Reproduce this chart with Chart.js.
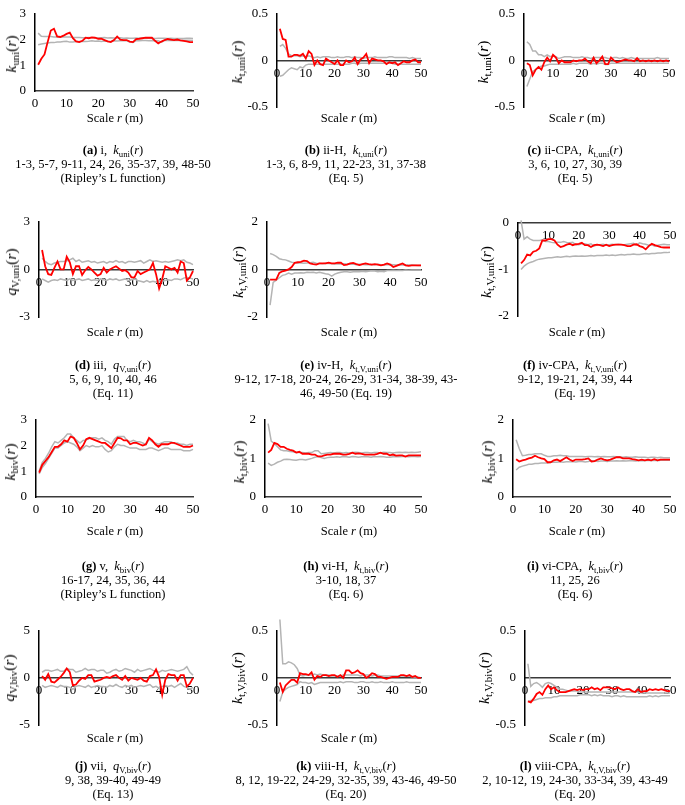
<!DOCTYPE html>
<html><head><meta charset="utf-8">
<script src="https://cdn.jsdelivr.net/npm/chart.js@4.4.1/dist/chart.umd.min.js"></script>
<style>
body{margin:0;background:#fff;width:685px;height:805px;position:relative;overflow:hidden;font-family:"Liberation Serif",serif;color:#000}
canvas{position:absolute}
.ytitle{position:absolute;white-space:nowrap;font-size:15.5px;transform:translate(-50%,-50%) rotate(-90deg)}
.xtitle{position:absolute;white-space:nowrap;font-size:12.5px;transform:translateX(-50%)}
.cap{position:absolute;white-space:nowrap;font-size:12.5px;line-height:14px;text-align:center;transform:translateX(-50%)}
sub{font-size:0.7em;vertical-align:-0.3em;line-height:0}
</style></head><body>
<script>
// scale r (m)
const radii = [1,2,3,4,5,6,7,8,9,10,11,12,13,14,15,16,17,18,19,20,21,22,23,24,25,26,27,28,29,30,31,32,33,34,35,36,37,38,39,40,41,42,43,44,45,46,47,48,49,50];

// (a) i
const aObs = [1.02,1.25,1.42,1.9,2.35,2.42,2.12,2.1,2.15,2.22,2.27,2.05,1.93,1.9,1.95,2.07,2.05,2.08,2.07,2.03,2.03,1.98,1.93,1.9,1.98,2.12,2.0,1.98,1.98,1.92,1.9,2.02,2.03,2.05,2.07,2.07,2.07,1.95,1.85,1.92,1.98,2.02,2.0,1.98,2.0,1.97,1.95,1.93,1.9,1.9];
const aHi = [2.25,2.13,2.12,2.12,2.12,2.1,2.1,2.11,2.1,2.1,2.1,2.08,2.08,2.08,2.07,2.07,2.08,2.07,2.07,2.06,2.07,2.08,2.06,2.07,2.06,2.06,2.07,2.05,2.06,2.05,2.05,2.06,2.05,2.06,2.05,2.05,2.05,2.04,2.05,2.05,2.05,2.04,2.05,2.04,2.04,2.04,2.04,2.05,2.05,2.04];
const aLo = [1.8,1.83,1.85,1.87,1.88,1.88,1.9,1.9,1.92,1.93,1.9,1.9,1.92,1.92,1.92,1.92,1.93,1.95,1.93,1.94,1.92,1.94,1.92,1.93,1.95,1.94,1.95,1.96,1.95,1.9,1.89,1.96,1.95,1.96,1.96,1.95,1.96,1.94,1.95,1.9,1.96,1.97,1.96,1.97,1.96,1.96,1.97,1.97,1.97,1.96];

// (b) ii-H
const bObs = [0.34,0.23,0.22,0.04,0.04,0.06,0.06,0.05,0.07,0.02,0.1,0.07,-0.05,0.0,-0.04,-0.05,0.02,0.0,-0.02,-0.04,0.0,-0.05,-0.05,0.0,-0.02,-0.01,0.03,-0.04,0.01,0.03,0.07,-0.03,0.02,0.01,0.0,0.0,-0.01,-0.04,-0.02,-0.03,-0.02,-0.05,-0.03,-0.01,-0.02,-0.02,0.0,0.01,-0.02,-0.02];
const bHi = [0.15,0.17,0.13,0.07,0.05,0.05,0.05,0.04,0.05,0.04,0.05,0.04,0.03,0.04,0.03,0.04,0.04,0.04,0.03,0.03,0.04,0.03,0.03,0.04,0.04,0.03,0.04,0.03,0.03,0.02,0.03,0.03,0.03,0.04,0.03,0.03,0.03,0.03,0.04,0.04,0.03,0.03,0.03,0.03,0.03,0.02,0.03,0.02,0.02,0.02];
const bLo = [-0.17,-0.16,-0.13,-0.1,-0.08,-0.09,-0.1,-0.07,-0.08,-0.05,-0.04,-0.04,-0.04,-0.04,-0.04,-0.04,-0.04,-0.04,-0.04,-0.04,-0.04,-0.04,-0.04,-0.04,-0.04,-0.03,-0.03,-0.04,-0.03,-0.03,-0.03,-0.03,-0.03,-0.03,-0.03,-0.03,-0.03,-0.03,-0.03,-0.03,-0.04,-0.04,-0.04,-0.04,-0.04,-0.04,-0.04,-0.04,-0.04,-0.04];

// (c) ii-CPA
const cObs = [-0.03,-0.05,-0.16,-0.1,-0.07,-0.1,-0.02,0.03,-0.01,0.06,0.03,-0.03,0.0,-0.02,-0.02,-0.02,0.0,-0.01,0.0,0.0,0.02,-0.01,-0.03,0.03,-0.03,0.0,0.04,-0.04,-0.04,0.03,0.0,-0.02,-0.01,0.0,0.01,0.0,0.0,-0.01,0.025,-0.01,0.0,-0.01,0.0,-0.01,0.0,-0.01,0.0,-0.01,0.0,-0.01];
const cHi = [0.2,0.17,0.1,0.1,0.06,0.06,0.04,0.06,0.04,0.05,0.04,0.02,0.03,0.04,0.04,0.04,0.03,0.03,0.03,0.04,0.03,0.03,0.02,0.03,0.03,0.03,0.03,0.03,0.02,0.02,0.03,0.03,0.02,0.03,0.02,0.02,0.03,0.02,0.02,0.02,0.02,0.02,0.02,0.02,0.02,0.03,0.02,0.02,0.02,0.02];
const cLo = [-0.28,-0.2,-0.12,-0.1,-0.08,-0.06,-0.06,-0.05,-0.04,-0.04,-0.04,-0.04,-0.04,-0.04,-0.04,-0.04,-0.03,-0.04,-0.03,-0.03,-0.03,-0.03,-0.04,-0.03,-0.04,-0.03,-0.03,-0.045,-0.045,-0.03,-0.03,-0.03,-0.03,-0.03,-0.03,-0.03,-0.03,-0.03,-0.03,-0.03,-0.03,-0.03,-0.03,-0.03,-0.03,-0.03,-0.03,-0.03,-0.03,-0.03];

// (d) iii
const dObs = [1.22,0.2,-0.3,-0.35,0.1,0.5,0.0,0.0,0.8,0.45,-0.3,0.2,0.2,-0.35,-0.05,0.15,0.0,-0.2,-0.4,-0.3,0.1,-0.2,0.0,0.1,0.2,0.05,-0.1,-0.05,-0.2,-0.5,-0.5,-0.1,-0.3,-0.2,-0.1,0.0,0.4,-0.3,-1.2,-0.6,0.2,0.1,0.0,0.1,-0.2,0.5,0.4,-0.7,-0.5,-0.1];
const dHi = [0.7,0.5,0.35,0.3,0.4,0.45,0.5,0.5,0.55,0.6,0.7,0.5,0.6,0.45,0.5,0.55,0.45,0.5,0.4,0.45,0.5,0.4,0.5,0.45,0.55,0.45,0.5,0.4,0.5,0.5,0.45,0.5,0.55,0.4,0.5,0.6,0.5,0.55,0.5,0.45,0.5,0.45,0.5,0.55,0.6,0.55,0.6,0.45,0.4,0.3];
const dLo = [-0.6,-0.7,-0.8,-0.7,-0.65,-0.7,-0.6,-0.65,-0.7,-0.6,-0.7,-0.65,-0.6,-0.7,-0.65,-0.6,-0.7,-0.65,-0.7,-0.6,-0.65,-0.7,-0.6,-0.65,-0.6,-0.7,-0.65,-0.6,-0.7,-0.65,-0.6,-0.7,-0.75,-0.8,-0.7,-0.8,-0.75,-0.8,-0.7,-0.75,-0.7,-0.65,-0.7,-0.6,-0.6,-0.65,-0.55,-0.5,-0.55,-0.6];

// (e) iv-H
const eObs = [-0.43,-0.43,-0.43,-0.15,-0.08,-0.05,0.0,0.1,0.28,0.3,0.32,0.37,0.35,0.25,0.22,0.2,0.25,0.25,0.25,0.28,0.25,0.25,0.28,0.28,0.18,0.2,0.25,0.27,0.22,0.18,0.22,0.25,0.22,0.2,0.22,0.2,0.17,0.2,0.25,0.2,0.1,0.15,0.2,0.25,0.17,0.15,0.17,0.17,0.17,0.17];
const eHi = [0.67,0.62,0.55,0.45,0.42,0.4,0.35,0.3,0.28,0.27,0.27,0.26,0.27,0.28,0.3,0.26,0.25,0.24,0.26,0.25,0.24,0.23,0.24,0.23,0.24,0.23,0.22,0.23,0.2,0.22,0.21,0.2,0.2,0.21,0.2,0.22,0.2,0.19,0.2,0.21,0.2,0.19,0.18,0.18,0.19,0.18,0.18,0.17,0.16,0.16];
const eLo = [-1.5,-0.55,-0.45,-0.35,-0.25,-0.22,-0.15,-0.2,-0.15,-0.15,-0.14,-0.15,-0.12,-0.13,-0.12,-0.15,-0.12,-0.15,-0.18,-0.2,-0.28,-0.2,-0.15,-0.12,-0.1,-0.1,-0.12,-0.1,-0.1,-0.1,-0.08,-0.1,-0.08,-0.06,-0.07,-0.1,-0.08,-0.1,-0.05,-0.05,-0.04,-0.05,-0.04,-0.05,-0.03,-0.04,-0.03,-0.03,-0.03,-0.03];

// (f) iv-CPA
const fObs = [-0.87,-0.8,-0.68,-0.7,-0.62,-0.6,-0.55,-0.38,-0.38,-0.35,-0.35,-0.38,-0.47,-0.52,-0.5,-0.47,-0.45,-0.48,-0.46,-0.45,-0.43,-0.48,-0.48,-0.52,-0.48,-0.47,-0.48,-0.5,-0.47,-0.5,-0.48,-0.47,-0.47,-0.47,-0.48,-0.5,-0.5,-0.47,-0.46,-0.5,-0.52,-0.57,-0.5,-0.45,-0.48,-0.5,-0.52,-0.53,-0.53,-0.53];
const fHi = [0.05,-0.35,-0.3,-0.35,-0.38,-0.38,-0.38,-0.37,-0.4,-0.4,-0.42,-0.43,-0.42,-0.42,-0.4,-0.42,-0.43,-0.42,-0.47,-0.47,-0.45,-0.45,-0.47,-0.45,-0.5,-0.47,-0.47,-0.46,-0.48,-0.47,-0.46,-0.47,-0.46,-0.47,-0.47,-0.46,-0.45,-0.44,-0.48,-0.43,-0.45,-0.46,-0.48,-0.47,-0.5,-0.48,-0.47,-0.46,-0.47,-0.47];
const fLo = [-1.0,-0.93,-0.88,-0.85,-0.83,-0.8,-0.78,-0.77,-0.76,-0.75,-0.75,-0.74,-0.73,-0.74,-0.73,-0.72,-0.73,-0.72,-0.71,-0.72,-0.71,-0.72,-0.71,-0.7,-0.71,-0.7,-0.7,-0.7,-0.69,-0.7,-0.69,-0.7,-0.69,-0.68,-0.69,-0.68,-0.68,-0.67,-0.68,-0.68,-0.67,-0.66,-0.67,-0.66,-0.66,-0.65,-0.65,-0.64,-0.64,-0.63];

// (g) v
const gObs = [0.95,1.25,1.4,1.55,1.75,1.95,1.95,2.05,2.2,2.15,2.35,2.3,2.1,1.85,2.0,2.25,2.3,2.25,2.2,2.15,2.1,2.1,2.0,1.9,2.1,2.3,2.28,2.2,2.2,2.05,2.1,2.1,2.05,2.0,2.05,2.3,2.2,2.05,1.95,2.05,2.05,2.05,2.1,2.1,2.05,2.0,1.95,1.95,1.95,2.0];
const gHi = [1.0,1.35,1.5,1.7,1.95,2.15,2.1,2.2,2.3,2.45,2.45,2.3,2.2,2.1,2.2,2.22,2.27,2.3,2.3,2.25,2.3,2.2,2.15,2.05,2.25,2.35,2.35,2.35,2.2,2.15,2.2,2.15,2.15,2.1,2.03,2.25,2.15,2.1,2.05,2.1,2.15,2.15,2.15,2.08,2.1,2.05,2.05,2.0,2.05,2.05];
const gLo = [0.9,1.15,1.3,1.5,1.7,1.9,1.9,2.0,2.1,2.15,2.1,2.05,1.95,1.8,1.9,2.0,1.95,2.0,1.95,1.95,2.0,1.85,1.75,1.8,1.95,2.05,2.0,2.0,1.95,1.9,1.9,1.9,1.85,1.85,1.85,1.9,1.9,1.85,1.8,1.85,1.9,1.9,1.85,1.85,1.85,1.85,1.8,1.8,1.8,1.85];

// (h) vi-H
const hObs = [1.15,1.22,1.4,1.37,1.3,1.3,1.25,1.22,1.2,1.15,1.17,1.12,1.12,1.12,1.1,1.1,1.05,1.05,1.08,1.1,1.1,1.12,1.12,1.12,1.1,1.1,1.12,1.15,1.12,1.13,1.12,1.1,1.1,1.1,1.1,1.12,1.15,1.12,1.12,1.08,1.1,1.07,1.08,1.08,1.05,1.08,1.08,1.08,1.08,1.08];
const hHi = [1.9,1.45,1.38,1.3,1.22,1.2,1.2,1.18,1.17,1.15,1.15,1.15,1.14,1.15,1.15,1.2,1.2,1.12,1.13,1.14,1.15,1.14,1.15,1.15,1.14,1.15,1.14,1.15,1.16,1.15,1.14,1.15,1.15,1.14,1.15,1.15,1.14,1.16,1.15,1.15,1.14,1.15,1.16,1.15,1.16,1.15,1.16,1.15,1.16,1.17];
const hLo = [0.88,0.82,0.85,0.9,0.93,0.97,0.98,0.97,0.96,0.95,0.97,0.97,0.96,0.98,1.0,1.03,1.05,1.02,1.0,1.02,1.03,1.03,1.04,1.03,1.05,1.04,1.03,1.05,1.04,1.03,1.04,1.05,1.04,1.03,1.05,1.04,1.05,1.04,1.03,1.03,1.04,1.05,1.04,1.05,1.05,1.04,1.05,1.05,1.04,1.05];

// (i) vi-CPA
const iObs = [0.98,0.92,0.95,0.97,1.0,1.02,1.07,1.03,1.0,0.98,0.9,0.9,0.95,0.97,0.93,0.98,1.03,0.97,0.93,0.97,0.97,0.97,0.98,1.0,0.92,0.93,0.97,1.0,0.97,0.95,0.97,1.0,1.03,1.03,1.0,1.0,1.0,0.98,0.97,0.95,0.97,0.95,0.97,0.95,0.98,0.95,0.97,0.97,0.97,0.97];
const iHi = [1.48,1.25,1.07,1.08,1.1,1.1,1.12,1.12,1.12,1.08,1.05,1.05,1.07,1.07,1.08,1.07,1.07,1.05,1.05,1.05,1.05,1.05,1.04,1.05,1.05,1.04,1.05,1.04,1.05,1.04,1.04,1.05,1.04,1.04,1.03,1.04,1.03,1.03,1.04,1.03,1.03,1.03,1.02,1.03,1.03,1.02,1.03,1.02,1.02,1.02];
const iLo = [0.7,0.77,0.8,0.82,0.85,0.85,0.87,0.87,0.88,0.88,0.88,0.9,0.9,0.9,0.91,0.9,0.91,0.91,0.92,0.91,0.92,0.92,0.91,0.92,0.94,0.94,0.92,0.93,0.93,0.92,0.93,0.93,0.94,0.93,0.94,0.93,0.94,0.94,0.93,0.94,0.94,0.94,0.95,0.94,0.95,0.94,0.95,0.95,0.95,0.95];

// (j) vii
const jObs = [0.2,-0.2,0.4,-0.4,-0.5,-0.2,0.1,0.5,1.0,0.6,-0.8,-0.7,-0.3,0.0,-0.1,0.3,0.3,-0.4,-0.3,-0.2,0.0,0.1,0.0,0.2,0.3,0.0,-0.2,0.2,-0.3,0.0,-0.1,-0.2,0.0,-0.3,-0.4,0.2,0.3,0.9,0.1,-1.8,-0.2,0.4,0.3,0.3,-0.3,0.3,0.3,-0.9,-0.6,0.0];
const jHi = [0.6,0.8,0.8,0.7,0.8,0.9,0.7,0.7,1.0,0.9,0.9,0.6,0.7,0.8,1.0,0.8,0.9,0.9,0.7,0.8,0.8,0.5,0.6,0.8,0.9,0.7,0.8,1.0,0.9,0.8,0.6,0.9,0.7,0.8,0.9,1.0,0.8,0.7,0.6,0.8,0.7,0.8,0.9,0.8,0.7,0.8,0.9,1.2,0.6,0.3];
const jLo = [-0.8,-1.0,-0.9,-0.8,-0.9,-1.0,-0.8,-0.9,-0.9,-1.0,-1.2,-0.9,-0.8,-0.9,-1.0,-0.8,-1.0,-0.9,-0.8,-0.9,-0.9,-1.0,-0.8,-0.9,-0.7,-0.9,-1.0,-0.8,-0.9,-0.8,-1.0,-0.9,-0.8,-0.9,-0.8,-0.7,-1.0,-0.9,-1.1,-0.9,-0.8,-0.9,-0.8,-1.0,-0.8,-0.6,-0.9,-1.0,-1.2,-1.0];

// (k) viii-H
const kObs = [-0.05,-0.15,-0.08,-0.05,-0.02,-0.02,-0.05,0.05,0.04,0.04,0.03,0.06,-0.02,0.02,0.01,0.03,0.03,0.02,0.03,0.03,0.01,0.03,0.0,0.08,0.08,0.05,0.06,0.08,0.05,0.04,0.0,0.02,0.05,0.04,0.01,0.01,0.0,-0.01,0.0,0.01,0.01,0.01,0.03,0.03,0.02,0.03,0.01,0.02,0.0,0.0];
const kHi = [0.62,0.15,0.15,0.17,0.16,0.14,0.1,0.03,0.02,0.03,0.03,0.03,0.04,0.03,0.04,0.03,0.03,0.03,0.02,0.02,0.02,0.02,0.03,0.03,0.03,0.03,0.03,0.03,0.02,0.03,0.03,0.03,0.02,0.03,0.03,0.02,0.02,0.02,0.02,0.02,0.02,0.02,0.02,0.02,0.02,0.02,0.01,0.01,0.01,0.0];
const kLo = [-0.25,-0.15,-0.12,-0.1,-0.09,-0.08,-0.07,-0.04,-0.05,-0.05,-0.06,-0.05,-0.07,-0.06,-0.05,-0.05,-0.05,-0.05,-0.05,-0.05,-0.05,-0.04,-0.05,-0.04,-0.04,-0.04,-0.05,-0.05,-0.04,-0.04,-0.05,-0.05,-0.04,-0.05,-0.05,-0.04,-0.05,-0.05,-0.05,-0.04,-0.05,-0.05,-0.05,-0.05,-0.04,-0.05,-0.05,-0.05,-0.05,-0.05];

// (l) viii-CPA
const lObs = [-0.25,-0.26,-0.22,-0.17,-0.15,-0.18,-0.12,-0.08,-0.12,-0.1,-0.13,-0.15,-0.15,-0.15,-0.14,-0.13,-0.12,-0.13,-0.12,-0.13,-0.12,-0.12,-0.1,-0.12,-0.11,-0.13,-0.1,-0.1,-0.1,-0.11,-0.12,-0.1,-0.12,-0.13,-0.12,-0.12,-0.14,-0.15,-0.12,-0.15,-0.14,-0.14,-0.12,-0.13,-0.12,-0.13,-0.12,-0.13,-0.14,-0.14];
const lHi = [0.15,-0.09,-0.06,-0.05,-0.07,-0.1,-0.06,-0.05,-0.06,-0.08,-0.1,-0.12,-0.12,-0.13,-0.14,-0.14,-0.14,-0.14,-0.15,-0.15,-0.15,-0.15,-0.15,-0.15,-0.15,-0.15,-0.15,-0.15,-0.15,-0.15,-0.15,-0.15,-0.15,-0.15,-0.15,-0.15,-0.15,-0.15,-0.15,-0.16,-0.16,-0.16,-0.16,-0.16,-0.16,-0.16,-0.16,-0.16,-0.16,-0.16];
const lLo = [-0.25,-0.24,-0.24,-0.23,-0.22,-0.22,-0.21,-0.21,-0.21,-0.2,-0.2,-0.19,-0.19,-0.19,-0.19,-0.19,-0.19,-0.19,-0.18,-0.18,-0.18,-0.18,-0.19,-0.18,-0.19,-0.18,-0.19,-0.19,-0.19,-0.2,-0.19,-0.19,-0.2,-0.19,-0.2,-0.2,-0.2,-0.2,-0.2,-0.2,-0.2,-0.2,-0.19,-0.2,-0.19,-0.2,-0.19,-0.19,-0.19,-0.19];

Chart.defaults.font.family = '"Liberation Serif", serif';
Chart.defaults.font.size = 13;
Chart.defaults.color = '#000';

const panels = [
  {obs:aObs, hi:aHi, lo:aLo, L:35, R:193, T:7, B:91, min:0, max:3, step:1, yt:[11,54], xt:[115,118], cp:[113,150],
   ylab:'<i>k</i><sub>uni</sub>(<i>r</i>)', cap:['<b>(a)</b> i,&nbsp; <i>k</i><sub>uni</sub>(<i>r</i>)','1-3, 5-7, 9-11, 24, 26, 35-37, 39, 48-50','(Ripley’s L function)']},
  {obs:bObs, hi:bHi, lo:bLo, L:277, R:421, T:7, B:107, min:-0.5, max:0.5, step:0.5, yt:[237,62], xt:[349,118], cp:[346,150],
   ylab:'<i>k</i><sub>t,uni</sub>(<i>r</i>)', cap:['<b>(b)</b> ii-H,&nbsp; <i>k</i><sub>t,uni</sub>(<i>r</i>)','1-3, 6, 8-9, 11, 22-23, 31, 37-38','(Eq. 5)']},
  {obs:cObs, hi:cHi, lo:cLo, L:524, R:669, T:7, B:107, min:-0.5, max:0.5, step:0.5, yt:[483,62], xt:[577,118], cp:[575,150],
   ylab:'<i>k</i><sub>t,uni</sub>(<i>r</i>)', cap:['<b>(c)</b> ii-CPA,&nbsp; <i>k</i><sub>t,uni</sub>(<i>r</i>)','3, 6, 10, 27, 30, 39','(Eq. 5)']},
  {obs:dObs, hi:dHi, lo:dLo, L:39, R:193, T:215, B:317, min:-3, max:3, step:3, yt:[11,272], xt:[115,332], cp:[113,365],
   ylab:'<i>q</i><sub>V,uni</sub>(<i>r</i>)', cap:['<b>(d)</b> iii,&nbsp; <i>q</i><sub>V,uni</sub>(<i>r</i>)','5, 6, 9, 10, 40, 46','(Eq. 11)']},
  {obs:eObs, hi:eHi, lo:eLo, L:267, R:421, T:215, B:317, min:-2, max:2, step:2, yt:[238,272], xt:[349,332], cp:[346,365],
   ylab:'<i>k</i><sub>t,V,uni</sub>(<i>r</i>)', cap:['<b>(e)</b> iv-H,&nbsp; <i>k</i><sub>t,V,uni</sub>(<i>r</i>)','9-12, 17-18, 20-24, 26-29, 31-34, 38-39, 43-','46, 49-50 (Eq. 19)']},
  {obs:fObs, hi:fHi, lo:fLo, L:518, R:670, T:216, B:316, min:-2, max:0, step:1, yt:[486,272], xt:[577,332], cp:[575,365],
   ylab:'<i>k</i><sub>t,V,uni</sub>(<i>r</i>)', cap:['<b>(f)</b> iv-CPA,&nbsp; <i>k</i><sub>t,V,uni</sub>(<i>r</i>)','9-12, 19-21, 24, 39, 44','(Eq. 19)']},
  {obs:gObs, hi:gHi, lo:gLo, L:36, R:193, T:413, B:497, min:0, max:3, step:1, yt:[10,462], xt:[115,531], cp:[113,566],
   ylab:'<i>k</i><sub>biv</sub>(<i>r</i>)', cap:['<b>(g)</b> v,&nbsp; <i>k</i><sub>biv</sub>(<i>r</i>)','16-17, 24, 35, 36, 44','(Ripley’s L function)']},
  {obs:hObs, hi:hHi, lo:hLo, L:265, R:421, T:413, B:497, min:0, max:2, step:1, yt:[239,462], xt:[349,531], cp:[346,566],
   ylab:'<i>k</i><sub>t,biv</sub>(<i>r</i>)', cap:['<b>(h)</b> vi-H,&nbsp; <i>k</i><sub>t,biv</sub>(<i>r</i>)','3-10, 18, 37','(Eq. 6)']},
  {obs:iObs, hi:iHi, lo:iLo, L:513, R:670, T:413, B:497, min:0, max:2, step:1, yt:[487,462], xt:[577,531], cp:[575,566],
   ylab:'<i>k</i><sub>t,biv</sub>(<i>r</i>)', cap:['<b>(i)</b> vi-CPA,&nbsp; <i>k</i><sub>t,biv</sub>(<i>r</i>)','11, 25, 26','(Eq. 6)']},
  {obs:jObs, hi:jHi, lo:jLo, L:39, R:193, T:624, B:725, min:-5, max:5, step:5, yt:[9,678], xt:[115,738], cp:[113,766],
   ylab:'<i>q</i><sub>V,biv</sub>(<i>r</i>)', cap:['<b>(j)</b> vii,&nbsp; <i>q</i><sub>V,biv</sub>(<i>r</i>)','9, 38, 39-40, 49-49','(Eq. 13)']},
  {obs:kObs, hi:kHi, lo:kLo, L:277, R:421, T:624, B:725, min:-0.5, max:0.5, step:0.5, yt:[237,678], xt:[349,738], cp:[346,766],
   ylab:'<i>k</i><sub>t,V,biv</sub>(<i>r</i>)', cap:['<b>(k)</b> viii-H,&nbsp; <i>k</i><sub>t,V,biv</sub>(<i>r</i>)','8, 12, 19-22, 24-29, 32-35, 39, 43-46, 49-50','(Eq. 20)']},
  {obs:lObs, hi:lHi, lo:lLo, L:525, R:670, T:624, B:725, min:-0.5, max:0.5, step:0.5, yt:[484,678], xt:[577,738], cp:[575,766],
   ylab:'<i>k</i><sub>t,V,biv</sub>(<i>r</i>)', cap:['<b>(l)</b> viii-CPA,&nbsp; <i>k</i><sub>t,V,biv</sub>(<i>r</i>)','2, 10-12, 19, 24-30, 33-34, 39, 43-49','(Eq. 20)']}
];

function pts(vals) {
  return vals.map((v, i) => ({x: radii[i], y: v}));
}

function addDiv(cls, html, x, y) {
  const d = document.createElement('div');
  d.className = cls;
  d.innerHTML = html;
  d.style.left = x + 'px';
  d.style.top = y + 'px';
  document.body.appendChild(d);
}

panels.forEach(p => {
  const cv = document.createElement('canvas');
  const w = p.R - p.L + 60, h = p.B - p.T + 40;
  cv.width = w; cv.height = h;
  cv.style.left = (p.L - 40) + 'px';
  cv.style.top = (p.T - 10) + 'px';
  document.body.appendChild(cv);

  const line = (vals, color, bw) => ({
    data: pts(vals), borderColor: color, borderWidth: bw,
    pointRadius: 0, tension: 0, fill: false, clip: false
  });

  new Chart(cv.getContext('2d'), {
    type: 'line',
    data: {
      datasets: [
        line(p.obs, '#ff0000', 1.8),
        line(p.hi, '#b4b4b4', 1.5),
        line(p.lo, '#b4b4b4', 1.5)
      ]
    },
    options: {
      responsive: false, animation: false, events: [],
      layout: {padding: {left: 0, top: 10, right: 20, bottom: 30}},
      plugins: {legend: {display: false}, tooltip: {enabled: false}},
      scales: {
        x: {
          type: 'linear', min: 0, max: 50, position: {y: 0},
          grid: {display: false, drawTicks: false},
          border: {display: true, color: '#3a3a3a', width: 1.5},
          ticks: {stepSize: 10, padding: 5, maxRotation: 0},
          afterFit(s) { s.height = 0; }
        },
        y: {
          min: p.min, max: p.max,
          grid: {display: false, drawTicks: false},
          border: {display: true, color: '#000', width: 1.5},
          ticks: {stepSize: p.step, padding: 9},
          afterFit(s) { s.width = 40; }
        }
      }
    }
  });

  addDiv('ytitle', p.ylab, p.yt[0], p.yt[1]);
  addDiv('xtitle', 'Scale <i>r</i> (m)', p.xt[0], p.xt[1] - 7);
  addDiv('cap', p.cap.join('<br>'), p.cp[0], p.cp[1] - 7);
});
</script>
</body></html>
